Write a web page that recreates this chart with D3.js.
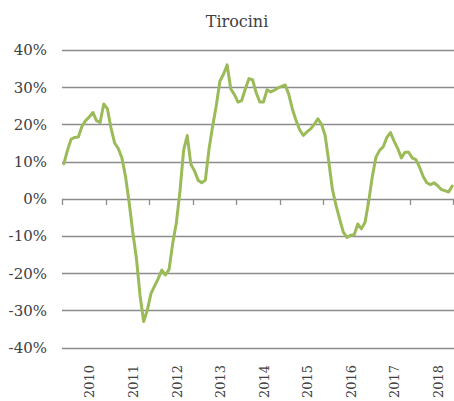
<!DOCTYPE html>
<html>
<head>
<meta charset="utf-8">
<script src="https://cdn.jsdelivr.net/npm/d3@7"></script>
<style>
  body { margin: 0; background: #fff; }
  text { font-family: "DejaVu Serif", serif; fill: #404040; }
</style>
</head>
<body>
<svg id="chart" width="454" height="401"></svg>
<script>
//============================================================
// Data
//------------------------------------------------------------

var title = 'Tirocini';
var years = ['2010', '2011', '2012', '2013', '2014', '2015', '2016', '2017', '2018'];
var yTicks = [-40, -30, -20, -10, 0, 10, 20, 30, 40];

// monthly % change, Jan 2010 .. Dec 2018
var values = [
   9.4, 13.0, 16.0, 16.5, 16.6, 19.5, 21.0, 22.0, 23.2, 21.0, 20.5, 25.5,
  24.2, 19.0, 15.0, 13.5, 11.0,  6.0, -1.0, -9.0,-16.0,-26.0,-33.0,-30.0,
 -25.5,-23.5,-21.5,-19.2,-20.5,-19.0,-12.0, -6.5,  2.0, 13.0, 17.0,  9.3,
   7.5,  5.0,  4.3,  5.0, 13.3, 19.5, 25.0, 31.6, 33.5, 36.0, 29.5, 28.0,
  26.0, 26.4, 29.5, 32.3, 32.0, 28.5, 26.0, 26.0, 29.3, 28.7, 29.2, 29.8,
  30.2, 30.6, 28.0, 24.0, 21.0, 18.5, 17.0, 18.0, 18.8, 20.0, 21.5, 20.0,
  17.0, 10.0,  2.5, -1.8, -5.5, -9.0,-10.4, -9.8, -9.7, -6.8, -8.1, -6.3,
  -0.7,  6.0, 11.2, 13.0, 14.0, 16.5, 17.8, 15.5, 13.5, 11.0, 12.5, 12.5,
  11.0, 10.5,  8.5,  6.0,  4.3,  3.8,  4.3,  3.5,  2.5,  2.2,  1.8,  3.4
];

//============================================================
// Setup
//------------------------------------------------------------

var margin = {top: 50, right: 0, bottom: 54, left: 62}
  , width = 454 - margin.left - margin.right
  , height = 401 - margin.top - margin.bottom
  , lineColor = '#9bbb59'
  , gridColor = '#8c8c8c'
  ;

var months = [];
years.forEach(function (y) {
  for (var m = 0; m < 12; m++) { months.push(y + '-' + m); }
});

var x = d3.scaleBand().domain(months).range([0, width]);
var xYear = d3.scaleBand().domain(years).range([0, width]);
var y = d3.scaleLinear().domain([-40, 40]).range([height + 0.5, 0]);

var svg = d3.select('#chart');

svg.append('text')
    .attr('x', 237)
    .attr('y', 27)
    .attr('text-anchor', 'middle')
    .style('font-size', '16px')
    .text(title);

var g = svg.append('g')
    .attr('transform', 'translate(' + margin.left + ',' + margin.top + ')');

//------------------------------------------------------------
// Gridlines + y labels

g.selectAll('line.grid')
    .data(yTicks)
  .enter().append('line')
    .attr('class', 'grid')
    .attr('x1', 0)
    .attr('x2', width)
    .attr('y1', function (d) { return Math.round(y(d)) + 0.5; })
    .attr('y2', function (d) { return Math.round(y(d)) + 0.5; })
    .attr('stroke', gridColor)
    .attr('stroke-width', 1.3);

g.selectAll('text.ylab')
    .data(yTicks)
  .enter().append('text')
    .attr('class', 'ylab')
    .attr('x', -15)
    .attr('y', function (d) { return y(d); })
    .attr('dy', '0.36em')
    .attr('text-anchor', 'end')
    .style('font-size', '15px')
    .text(function (d) { return d + '%'; });

//------------------------------------------------------------
// Category ticks on the zero line + year labels

var bounds = years.map(function (d) { return xYear(d); }).concat([width]);

g.selectAll('line.xtick')
    .data(bounds)
  .enter().append('line')
    .attr('class', 'xtick')
    .attr('x1', function (d) { return Math.min(Math.round(d) + 0.5, width - 0.5); })
    .attr('x2', function (d) { return Math.min(Math.round(d) + 0.5, width - 0.5); })
    .attr('y1', Math.round(y(0)))
    .attr('y2', Math.round(y(0)) + 6)
    .attr('stroke', gridColor)
    .attr('stroke-width', 1.3);

// labels kept a bit smaller than the reference so they fit inside the frame
g.selectAll('text.xlab')
    .data(years)
  .enter().append('text')
    .attr('class', 'xlab')
    .attr('transform', function (d) {
      return 'translate(' + (xYear(d) + xYear.bandwidth() / 2 + 6) + ',' + (height + 18) + ') rotate(-90)';
    })
    .attr('dy', '0.36em')
    .attr('text-anchor', 'end')
    .style('font-size', '13px')
    .text(function (d) { return d; });

//------------------------------------------------------------
// Series line

var line = d3.line()
    .x(function (d, i) { return x(months[i]) + x.bandwidth() / 2; })
    .y(function (d) { return y(d); });

g.append('path')
    .datum(values)
    .attr('d', line)
    .attr('fill', 'none')
    .attr('stroke', lineColor)
    .attr('stroke-width', 3)
    .attr('stroke-linejoin', 'round')
    .attr('stroke-linecap', 'round');
</script>
</body>
</html>
